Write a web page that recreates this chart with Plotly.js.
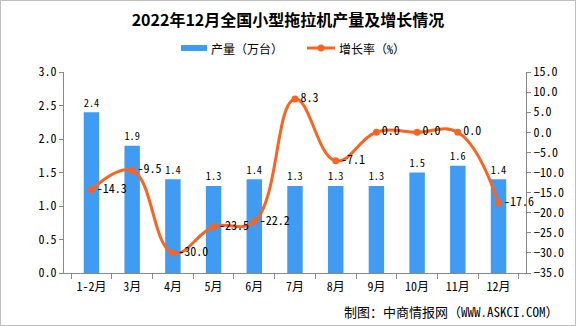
<!DOCTYPE html>
<html><head><meta charset="utf-8">
<script src="https://cdn.plot.ly/plotly-3.0.1.min.js"></script>
<style>html,body{margin:0;padding:0;background:#fff}#c{width:574px;height:324px;border:1px solid #bfbfbf}</style>
</head><body><div id="c"></div>
<script>
const categories = ["1-2月","3月","4月","5月","6月","7月","8月","9月","10月","11月","12月"];
const output = [2.4,1.9,1.4,1.3,1.4,1.3,1.3,1.3,1.5,1.6,1.4];
const growth = [-14.3,-9.5,-30.0,-23.5,-22.2,8.3,-7.1,0.0,0.0,0.0,-17.6];
const F = "Noto Sans Mono CJK SC, Liberation Mono, Noto Sans CJK SC, monospace";
const FT = "Noto Sans CJK SC, sans-serif";
const BLUE = "#3f9cf2", ORANGE = "#fa6420";
const W = 574, H = 324, ML = 63, MR = 49, MT = 71, MB = 52;
const px = x => (x - 1 - ML) / (W - ML - MR);
const py = y => (H - MB - (y - 1)) / (H - MT - MB);
const traces = [
 {type:"bar", name:"产量（万台）", x:categories, y:output, marker:{color:BLUE},
  text:output.map(v=>v.toFixed(1)), textposition:"outside", cliponaxis:false,
  textfont:{family:F,size:12,color:"#000"}, hoverinfo:"none"},
 {type:"scatter", mode:"lines+markers+text", name:"增长率（%）", x:categories, y:growth, yaxis:"y2",
  line:{color:ORANGE,width:3,shape:"spline",smoothing:1.2}, marker:{color:ORANGE,size:7},
  text:growth.map(v=>v.toFixed(1)), textposition:"middle right", cliponaxis:false,
  textfont:{family:F,size:12,color:"#000"}, hoverinfo:"none"}
];
const layout = {
 width:W, height:H, margin:{l:ML,r:MR,t:MT,b:MB},
 paper_bgcolor:"#fff", plot_bgcolor:"#fff", font:{family:F,size:12,color:"#000"},
 title:{text:"<b>2022年12月全国小型拖拉机产量及增长情况</b>", x:0.5, xanchor:"center", y:(H-19)/H, yanchor:"middle", font:{family:FT,size:16,color:"#000"}},
 showlegend:false,
 bargap:0.62,
 xaxis:{type:"category", showline:true, linecolor:"#888", ticks:"outside", tickson:"boundaries", ticklen:5, tickcolor:"#888", showgrid:false, tickfont:{family:F,size:12}, ticklabelstandoff:3},
 yaxis:{range:[0,3], dtick:0.5, tickformat:".1f", showline:true, linecolor:"#888", ticks:"outside", ticklen:4, tickcolor:"#888", showgrid:false, zeroline:false, tickfont:{family:F,size:12}},
 yaxis2:{range:[-35,15], dtick:5, tickformat:".1f", overlaying:"y", side:"right", showline:true, linecolor:"#888", ticks:"outside", ticklen:4, tickcolor:"#888", showgrid:false, zeroline:false, tickfont:{family:F,size:12}},
 shapes:[
  {type:"rect", xref:"paper", yref:"paper", x0:px(181), x1:px(207), y0:py(51), y1:py(45), fillcolor:BLUE, line:{width:0}},
  {type:"line", xref:"paper", yref:"paper", x0:px(307), x1:px(335), y0:py(48), y1:py(48), line:{color:ORANGE,width:3}},
  {type:"circle", xref:"paper", yref:"paper", x0:px(317.5), x1:px(324.5), y0:py(51.5), y1:py(44.5), fillcolor:ORANGE, line:{width:0}}
 ],
 annotations:[
  {text:"产量（万台）", xref:"paper", yref:"paper", x:px(209), y:py(48), xanchor:"left", yanchor:"middle", showarrow:false, font:{family:F,size:12,color:"#000"}},
  {text:"增长率（%）", xref:"paper", yref:"paper", x:px(337), y:py(48), xanchor:"left", yanchor:"middle", showarrow:false, font:{family:F,size:12,color:"#000"}},
  {text:"制图：中商情报网（WWW.ASKCI.COM）", xref:"paper", yref:"paper", x:px(561), y:py(311), xanchor:"right", yanchor:"middle", showarrow:false, font:{family:F,size:13,color:"#000"}}
 ]
};
Plotly.newPlot("c", traces, layout, {displayModeBar:false, staticPlot:true});
</script></body></html>
